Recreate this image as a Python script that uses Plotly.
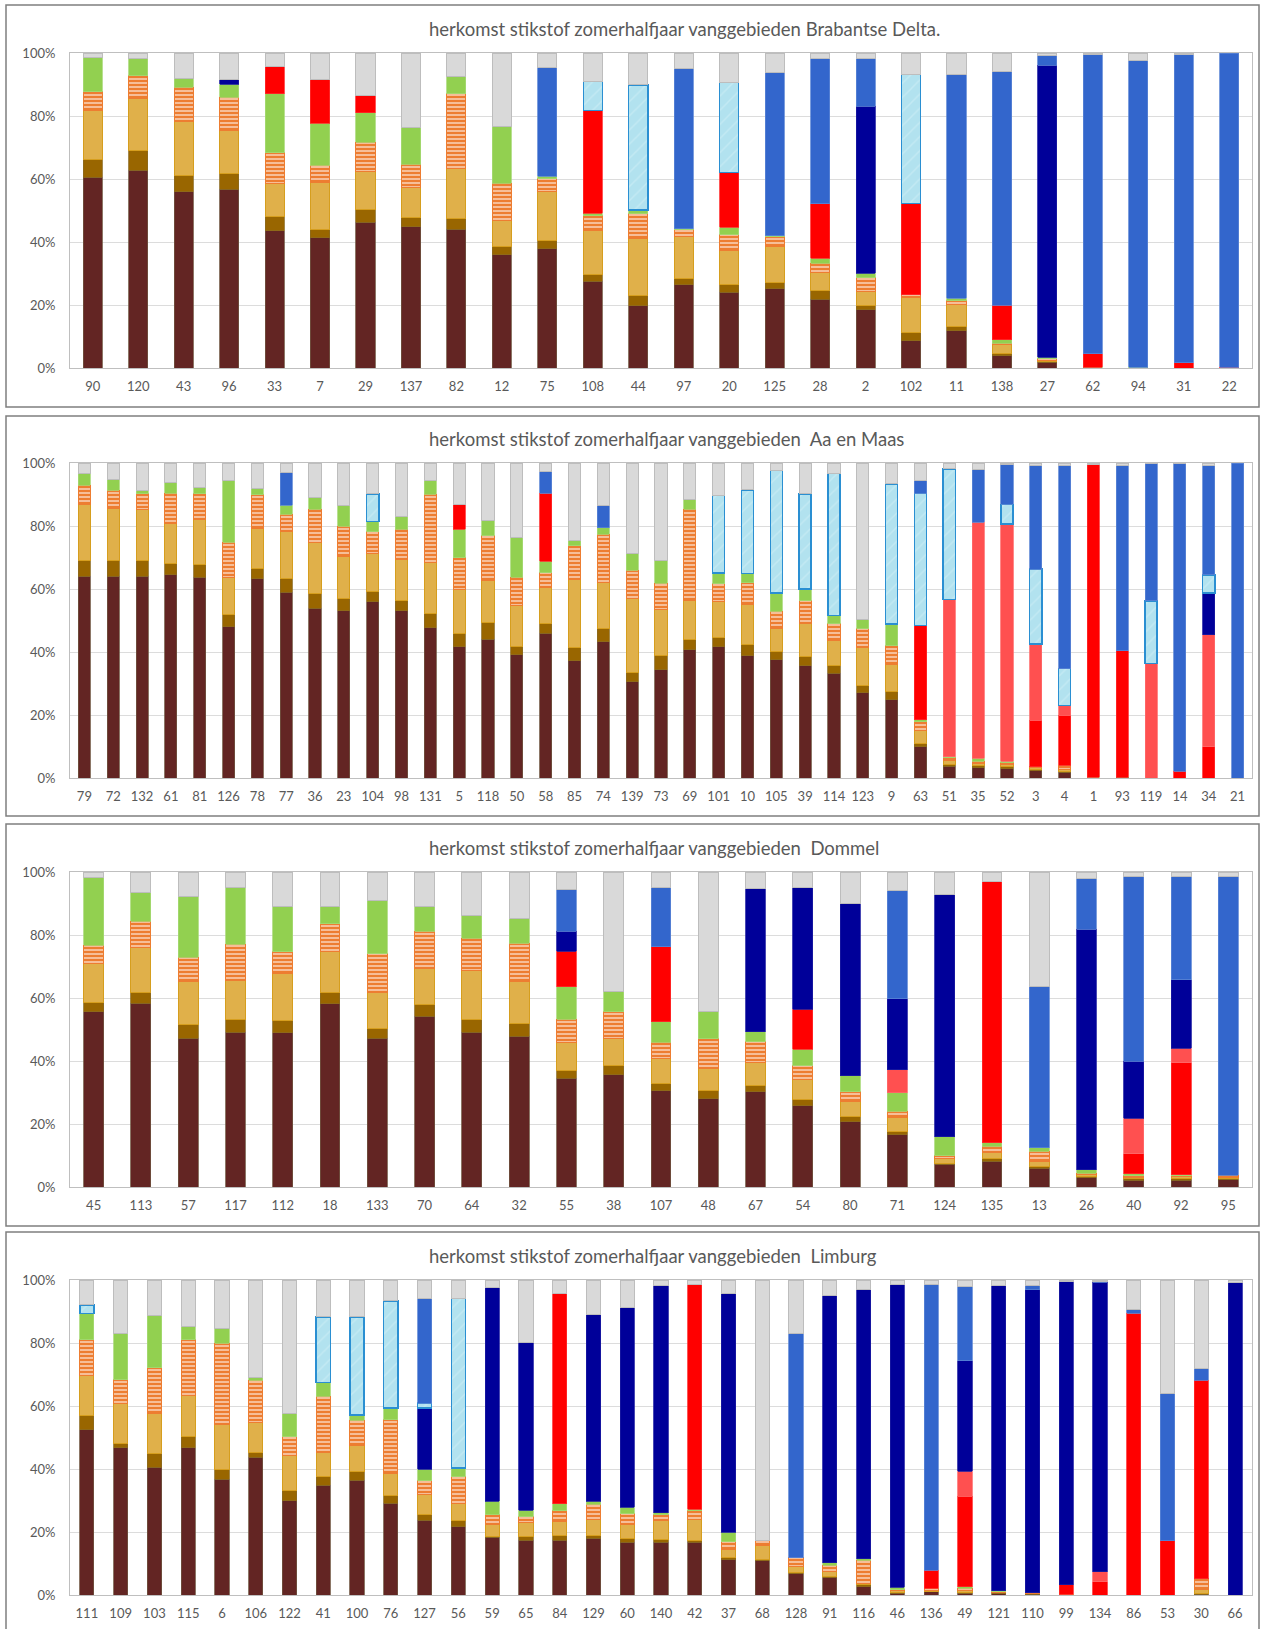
import plotly.graph_objects as go

# ---------------- Brabantse Delta ----------------
bd_labels = ["90","120","43","96","33","7","29","137","82","12","75","108","44","97","20","125","28","2","102","11","138","27","62","94","31","22"]
bd_brown = [60.5,62.8,55.9,56.8,43.5,41.3,46.3,44.8,44.1,35.9,37.8,27.6,19.8,26.5,24.1,25.1,21.9,18.5,8.7,11.9,3.9,1.8,0,0,0,0]
bd_olive = [5.7,6.1,5.1,4.9,4.5,2.6,3.9,2.9,3.3,2.6,2.7,2.0,3.3,2.0,2.4,2.0,2.7,1.4,2.7,1.2,0.7,0.2,0,0,0,0]
bd_gold = [15.6,16.7,17.3,13.7,10.7,15.1,12.3,9.7,16.0,8.3,15.4,14.0,18.1,13.1,10.9,11.4,5.8,4.5,11.0,7.0,3.0,0.3,0,0,0,0]
bd_striped = [5.9,7.2,10.8,10.5,9.6,5.4,9.1,7.3,23.7,11.9,4.2,4.8,7.7,2.3,4.9,3.1,2.9,4.3,0.8,1.3,0.3,0.7,0,0,0,0]
bd_green = [11.0,5.5,2.9,4.2,18.8,13.3,9.5,11.5,5.3,18.0,0.7,0.8,1.2,0.3,2.4,0.4,1.6,1.4,0,0.8,1.1,0.4,0.3,0.3,0,0]
bd_red = [0,0,0,0,8.7,13.9,5.5,0,0,0,0,32.6,0,0,17.3,0,17.3,0,29.0,0,10.9,0,4.3,0,1.6,0.3]
bd_light_red = [0,0,0,0,0,0,0,0,0,0,0,0,0,0,0,0,0,0,0,0,0,0,0,0,0,0]
bd_navy = [0,0,0,1.6,0,0,0,0,0,0,0,0,0,0,0,0,0,53.0,0,0,0,92.7,0,0,0,0]
bd_water = [0,0,0,0,0,0,0,0,0,0,0,9.2,39.8,0,28.7,0,0,0,40.9,0,0,0,0,0,0,0]
bd_blue = [0,0,0,0,0,0,0,0,0,0,34.6,0,0,50.9,0,51.9,46.0,15.1,0,70.9,74.3,3.1,94.9,97.4,97.9,99.7]
bd_grey = [1.3,1.7,8.0,8.3,4.2,8.4,13.4,23.8,7.6,23.3,4.6,9.0,10.1,4.9,9.3,6.1,1.8,1.8,6.9,6.9,5.8,0.8,0.5,2.3,0.5,0]

# ---------------- Aa en Maas ----------------
am_labels = ["79","72","132","61","81","126","78","77","36","23","104","98","131","5","118","50","58","85","74","139","73","69","101","10","105","39","114","123","9","63","51","35","52","3","4","1","93","119","14","34","21"]
am_brown = [64.1,64.1,64.1,64.5,63.8,48.0,63.2,59.0,53.9,53.1,55.9,53.1,47.7,41.6,44.1,39.1,45.9,37.2,43.3,30.6,34.4,40.7,41.7,38.8,37.6,35.7,33.2,27.1,24.8,10.0,3.7,3.3,3.0,2.3,1.8,0,0,0,0,0,0]
am_olive = [4.8,4.8,4.8,3.5,3.9,3.9,3.2,4.2,4.6,3.8,3.2,3.2,4.5,4.3,5.3,2.7,3.0,4.2,4.1,2.9,4.4,3.4,2.9,3.5,2.6,2.9,2.5,2.3,2.6,1.1,0.6,0.6,0.6,0.4,0.4,0,0.2,0,0,0,0]
am_gold = [18.0,16.7,16.4,12.7,14.4,11.6,12.7,14.9,16.4,13.3,12.1,13.0,16.2,13.9,13.4,13.0,11.7,21.5,14.8,23.6,14.8,12.1,11.5,12.7,7.2,10.4,7.9,12.1,8.7,4.0,1.2,0.6,0.7,0.5,0.6,0,0,0,0,0,0]
am_striped = [6.1,5.8,4.9,9.7,8.2,11.3,10.8,5.6,10.4,9.7,6.9,9.7,21.7,10.1,14.1,8.9,4.5,10.8,15.2,8.8,8.3,29.1,5.6,7.0,5.5,7.3,5.3,5.9,5.9,2.7,0.9,0.8,0.5,0.4,1.2,0,0,0,0,0,0]
am_green = [3.8,3.3,1.0,3.3,2.0,19.6,1.9,2.9,3.6,6.7,3.3,3.9,4.3,9.1,4.8,12.6,3.7,1.7,2.0,5.3,7.0,3.2,3.4,2.9,5.9,3.7,2.7,2.9,6.9,0.7,0.4,0.9,0.5,0,0,0.3,0,0,0,0,0]
am_red = [0,0,0,0,0,0,0,0,0,0,0,0,0,7.9,0,0,21.6,0,0,0,0,0,0,0,0,0,0,0,0,29.9,0,0,0,14.8,16.0,99.2,40.2,0,2.1,10.0,0]
am_light_red = [0,0,0,0,0,0,0,0,0,0,0,0,0,0,0,0,0,0,0,0,0,0,0,0,0,0,0,0,0,0,49.8,75.0,75.3,24.2,3.0,0,0,36.4,0,35.4,0]
am_navy = [0,0,0,0,0,0,0,0,0,0,0,0,0,0,0,0,0,0,0,0,0,0,0,0,0,0,0,0,0,0,0,0,0,0,0,0,0,0,0,13.3,0]
am_water = [0,0,0,0,0,0,0,0,0,0,8.8,0,0,0,0,0,0,0,0,0,0,0,24.6,26.6,38.8,30.2,45.0,0,44.5,42.0,41.5,0,6.3,23.7,11.7,0,0,19.8,0,5.8,0]
am_blue = [0,0,0,0,0,0,0,10.5,0,0,0,0,0,0,0,0,7.0,0,7.2,0,0,0,0,0,0,0,0,0,0,4.2,0,16.6,12.5,33.0,64.6,0,58.9,43.5,97.7,34.8,100]
am_grey = [3.2,5.3,8.8,6.3,7.7,5.6,8.2,2.9,11.1,13.4,9.8,17.1,5.6,13.1,18.3,23.7,2.6,24.6,13.4,28.8,31.1,11.5,10.3,8.5,2.4,9.8,3.4,49.7,6.6,5.4,1.9,2.2,0.6,0.7,0.7,0.5,0.7,0.3,0.2,0.7,0]

# ---------------- Dommel ----------------
do_labels = ["45","113","57","117","112","18","133","70","64","32","55","38","107","48","67","54","80","71","124","135","13","26","40","92","95"]
do_brown = [55.6,58.4,47.3,49.2,48.9,58.1,47.3,54.2,49.2,47.9,34.6,35.6,30.6,28.0,30.3,25.8,20.7,16.6,7.2,8.1,5.9,3.0,2.1,2.1,2.3]
do_olive = [3.1,3.5,4.2,3.9,3.9,3.5,3.1,3.7,3.9,4.0,2.4,2.9,2.4,2.7,1.9,2.1,1.7,1.1,0.4,0.8,0.7,0.4,0.5,0.5,0.3]
do_gold = [12.3,14.0,13.8,12.5,15.1,13.2,11.2,11.6,15.7,13.4,8.9,8.6,7.8,6.9,7.2,6.1,4.8,4.4,1.4,2.1,1.5,0.7,0.5,0.6,0.5]
do_striped = [5.7,8.4,7.7,11.4,6.8,8.8,12.5,11.7,10.1,12.1,7.4,8.6,5.1,9.5,6.7,4.5,3.1,2.0,0.9,1.9,3.2,0.3,0.5,0.4,0.6]
do_green = [21.7,9.2,19.3,18.1,14.4,5.5,16.7,7.9,7.3,7.7,10.2,6.5,6.6,8.6,3.2,5.3,5.0,5.8,6.1,1.2,1.1,1.1,0.6,0.3,0]
do_red = [0,0,0,0,0,0,0,0,0,0,11.3,0,23.7,0,0,12.7,0,0,0,82.9,0,0,6.4,35.5,0]
do_light_red = [0,0,0,0,0,0,0,0,0,0,0,0,0,0,0,0,0,7.3,0,0,0,0,11.3,4.7,0]
do_navy = [0,0,0,0,0,0,0,0,0,0,6.4,0,0,0,45.5,38.6,54.8,22.5,76.9,0,0,76.4,18.1,21.7,0]
do_water = [0,0,0,0,0,0,0,0,0,0,0,0,0,0,0,0,0,0,0,0,0,0,0,0,0]
do_blue = [0,0,0,0,0,0,0,0,0,0,13.4,0,19.0,0,0,0,0,34.3,0,0,51.4,16.1,58.5,32.7,94.8]
do_grey = [1.6,6.5,7.7,4.9,10.9,10.9,9.2,10.9,13.8,14.9,5.4,37.8,4.8,44.3,5.2,4.9,9.9,6.0,7.1,3.0,36.2,2.0,1.5,1.5,1.5]

# ---------------- Limburg ----------------
li_labels = ["111","109","103","115","6","106","122","41","100","76","127","56","59","65","84","129","60","140","42","37","68","128","91","116","46","136","49","121","110","99","134","86","53","30","66"]
li_brown = [52.5,46.8,40.6,46.8,36.8,43.8,29.9,34.9,36.4,29.1,23.7,21.6,18.4,17.4,17.4,18.0,16.7,16.7,16.7,11.2,10.8,6.8,5.5,2.6,0.6,1.0,0.6,0.4,0.3,0,0,0,0,0.3,0]
li_olive = [4.6,1.2,4.4,3.6,3.2,1.5,3.2,2.6,2.9,2.4,2.0,2.2,0.2,1.1,1.4,0.8,1.3,1.0,0.7,0.7,0.4,0.3,0.4,0.6,0.3,0.2,0.3,0.3,0.1,0,0,0,0,0.3,0]
li_gold = [12.6,12.7,12.6,12.9,14.2,9.6,11.1,7.7,8.3,7.2,6.3,5.4,3.9,4.5,4.5,5.2,4.4,5.9,6.5,2.7,4.5,1.8,1.5,0.4,0.4,0.3,0.4,0.2,0.1,0.1,0,0,0,1.0,0]
li_striped = [11.3,7.7,14.6,17.7,25.7,13.3,6.1,17.9,7.8,17.0,4.2,8.4,2.9,1.8,3.5,4.8,3.4,1.9,2.8,2.3,1.6,3.0,2.1,7.4,0.4,0.6,0.8,0.2,0.2,0.2,0,0,0,3.5,0]
li_green = [8.4,14.7,16.4,4.1,4.8,0.7,7.3,4.4,1.7,3.7,3.7,2.7,4.4,2.1,2.2,0.9,2.1,0.6,0.6,3.1,0,0,0.7,0.5,0.8,0,0.5,0.2,0,0,0,0,0,0,0]
li_red = [0,0,0,0,0,0,0,0,0,0,0,0,0,0,66.8,0,0,0,71.3,0,0,0,0,0,0,5.8,28.8,0,0,3.0,4.2,89.4,17.3,63.1,0]
li_light_red = [0,0,0,0,0,0,0,0,0,0,0,0,0,0,0,0,0,0,0,0,0,0,0,0,0,0,7.9,0,0,0,3.2,0,0,0,0]
li_navy = [0,0,0,0,0,0,0,0,0,0,19.5,0,67.9,53.4,0,59.5,63.4,72.2,0,75.8,0,0,84.9,85.5,96.0,0,35.0,97.0,96.2,96.2,91.9,0,0,0,99.3]
li_water = [2.7,0,0,0,0,0,0,20.8,31.2,34.0,1.5,53.9,0,0,0,0,0,0,0,0,0,0,0,0,0,0,0,0,0,0,0,0,0,0,0]
li_blue = [0,0,0,0,0,0,0,0,0,0,33.3,0,0,0,0,0,0,0,0,0,0,71.2,0,0,0,90.7,23.7,0,1.4,0,0.2,1.3,46.7,3.7,0]
li_grey = [7.9,16.9,11.4,14.9,15.3,31.1,42.4,11.7,11.7,6.6,5.8,5.8,2.3,19.7,4.2,10.8,8.7,1.7,1.4,4.2,82.7,16.9,4.9,3.0,1.5,1.4,2.0,1.7,1.7,0.5,0.5,9.3,36.0,28.1,0.7]

y_ticks = [0, 20, 40, 60, 80, 100]
y_ticktext = ["0%", "20%", "40%", "60%", "80%", "100%"]

titles = [
    "herkomst stikstof zomerhalfjaar vanggebieden Brabantse Delta.",
    "herkomst stikstof zomerhalfjaar vanggebieden\u00a0 Aa en Maas",
    "herkomst stikstof zomerhalfjaar vanggebieden\u00a0 Dommel",
    "herkomst stikstof zomerhalfjaar vanggebieden\u00a0 Limburg",
]

panels = [
    (bd_labels, [bd_brown, bd_olive, bd_gold, bd_striped, bd_green, bd_red, bd_light_red, bd_navy, bd_water, bd_blue, bd_grey]),
    (am_labels, [am_brown, am_olive, am_gold, am_striped, am_green, am_red, am_light_red, am_navy, am_water, am_blue, am_grey]),
    (do_labels, [do_brown, do_olive, do_gold, do_striped, do_green, do_red, do_light_red, do_navy, do_water, do_blue, do_grey]),
    (li_labels, [li_brown, li_olive, li_gold, li_striped, li_green, li_red, li_light_red, li_navy, li_water, li_blue, li_grey]),
]

# series styles (bottom -> top)
styles = [
    dict(color="#632523", line="#6F5440", lw=0.8, pattern=None),
    dict(color="#996600", line="#8C6A1E", lw=0.8, pattern=None),
    dict(color="#E0B04A", line="#D69E1E", lw=1.0, pattern=None),
    dict(color="#ED7D31", line="#ED7D31", lw=1.0,
         pattern=dict(shape="-", fgcolor="#FFFFFF", bgcolor="#ED7D31", size=4, solidity=0.5)),
    dict(color="#92D050", line="#A6D874", lw=0.8, pattern=None),
    dict(color="#FF0000", line="#FF2A2A", lw=0.8, pattern=None),
    dict(color="#FF5050", line="#FF6A6A", lw=0.8, pattern=None),
    dict(color="#000099", line="#1A1AA0", lw=0.8, pattern=None),
    dict(color="#B8E5F1", line="#2A8FD2", lw=1.5,
         pattern=dict(shape="/", fgcolor="#D3F0F7", bgcolor="#B2E2EF", size=10, solidity=0.15)),
    dict(color="#3366CC", line="#5A84D4", lw=0.8, pattern=None),
    dict(color="#D9D9D9", line="#BDBDBD", lw=1.0, pattern=None),
]

W, H = 1263, 1629
plot_tops = [53, 463, 872, 1280]
plot_h = 315
px_left, px_right = 70, 1252
borders = [(5, 407), (416, 816), (824, 1226), (1232, 1632)]
title_x = 427

fig = go.Figure()
font_family = "Lato, 'Open Sans', sans-serif"

for k, (labels, series) in enumerate(panels):
    sfx = "" if k == 0 else str(k + 1)
    xa, ya = "x" + sfx, "y" + sfx
    for st, vals in zip(styles, series):
        marker = dict(color=st["color"], line=dict(color=st["line"], width=st["lw"]))
        if st["pattern"] is not None:
            marker["pattern"] = st["pattern"]
        fig.add_trace(go.Bar(
            x=labels, y=[v if v > 0 else None for v in vals],
            xaxis=xa, yaxis=ya, marker=marker, showlegend=False,
            hoverinfo="skip"))
    top = plot_tops[k]
    bot = top + plot_h
    fig.layout["xaxis" + sfx] = dict(
        domain=[px_left / W, px_right / W], anchor=ya, type="category",
        showgrid=False, zeroline=False, showline=True, linecolor="#BFBFBF",
        linewidth=1, mirror=True, ticks="", ticklabelstandoff=6,
        automargin=False,
        tickfont=dict(family=font_family, size=13, color="#595959"),
        fixedrange=True)
    fig.layout["yaxis" + sfx] = dict(
        domain=[1 - bot / H, 1 - top / H], anchor=xa, range=[0, 100],
        tickvals=y_ticks, ticktext=y_ticktext, showgrid=True,
        gridcolor="#DCDCDC", gridwidth=1, zeroline=False, showline=True,
        linecolor="#BFBFBF", linewidth=1, mirror=True, ticks="",
        ticklabelstandoff=11, automargin=False,
        tickfont=dict(family=font_family, size=13, color="#595959"),
        fixedrange=True)
    b0, b1 = borders[k]
    fig.add_shape(type="rect", xref="paper", yref="paper",
                  x0=6 / W, x1=1259 / W, y0=1 - b1 / H, y1=1 - b0 / H,
                  line=dict(color="#7F7F7F", width=1.5), fillcolor="rgba(0,0,0,0)",
                  layer="below")
    fig.add_annotation(text=titles[k], xref="paper", yref="paper",
                       x=title_x / W, y=1 - (top - 24) / H, xanchor="left",
                       yanchor="middle", showarrow=False,
                       font=dict(family=font_family, size=18.5, color="#595959"))

fig.update_layout(
    width=W, height=H, autosize=False, barmode="stack", bargap=0.58,
    margin=dict(l=0, r=0, t=0, b=0, pad=0), paper_bgcolor="white",
    plot_bgcolor="white", showlegend=False)

fig.write_html("out.html", config={"displayModeBar": False},
               post_script="document.body.style.margin='0';document.body.style.overflow='hidden';")
